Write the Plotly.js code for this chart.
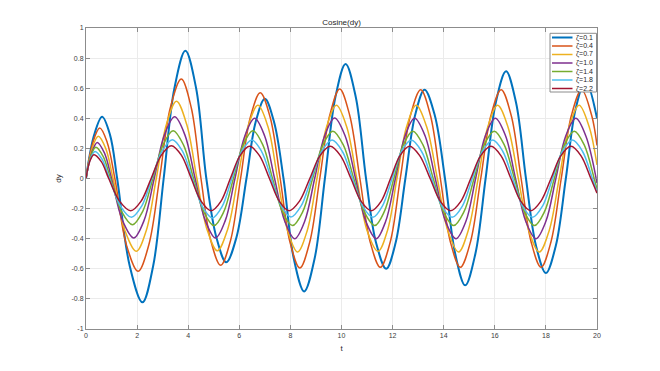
<!DOCTYPE html>
<html>
<head>
<meta charset="utf-8">
<script src="https://cdn.plot.ly/plotly-3.0.1.min.js"></script>
<style>html,body{margin:0;padding:0;background:#fff;}#chart{width:660px;height:371px;}</style>
</head>
<body>
<div id="chart"></div>
<script>
// values (peaks, troughs, zero crossings and in-between points)
const names = ["ζ=0.1", "ζ=0.4", "ζ=0.7", "ζ=1.0", "ζ=1.4", "ζ=1.8", "ζ=2.2"];
const colors = ["#0072BD", "#D95319", "#EDB120", "#7E2F8E", "#77AC30", "#4DBEEE", "#A2142F"];

const tZ01 = [0,0.32,0.63,0.94,1.22,1.71,2.21,2.63,3.04,3.46,3.89,4.31,4.71,5.1,5.49,5.89,6.28,6.64,7.0,7.36,7.73,8.13,8.54,8.95,9.35,9.76,10.16,10.56,10.96,11.35,11.75,12.12,12.5,12.88,13.25,13.65,14.05,14.45,14.84,15.24,15.64,16.04,16.44,16.83,17.22,17.61,18.0,18.39,18.78,19.16,19.55,20];
const vZ01 = [0,0.29,0.41,0.29,0,-0.58,-0.823,-0.58,0,0.6,0.849,0.6,0,-0.39,-0.557,-0.39,0,0.375,0.53,0.375,0,-0.53,-0.75,-0.53,0,0.54,0.761,0.54,0,-0.425,-0.6,-0.425,0,0.42,0.59,0.42,0,-0.5,-0.71,-0.5,0,0.505,0.712,0.505,0,-0.445,-0.628,-0.445,0,0.46,0.65,0.4];

const tZ04 = [0,0.27,0.54,0.83,1.13,1.58,2.04,2.46,2.88,3.3,3.73,4.12,4.5,4.88,5.27,5.66,6.05,6.43,6.82,7.21,7.6,7.98,8.37,8.76,9.15,9.54,9.93,10.32,10.72,11.12,11.52,11.91,12.3,12.7,13.1,13.48,13.87,14.26,14.65,15.05,15.45,15.85,16.25,16.64,17.03,17.42,17.81,18.2,18.6,19.0,19.4,19.79,20];
const vZ04 = [0,0.24,0.335,0.24,0,-0.44,-0.617,-0.44,0,0.47,0.661,0.47,0,-0.41,-0.577,-0.41,0,0.405,0.57,0.405,0,-0.42,-0.595,-0.42,0,0.42,0.595,0.42,0,-0.42,-0.59,-0.42,0,0.42,0.59,0.42,0,-0.42,-0.59,-0.42,0,0.42,0.59,0.42,0,-0.42,-0.59,-0.42,0,0.42,0.59,0.42,0.22];

const tZ07 = [0,0.24,0.48,0.77,1.06,1.52,1.97,2.36,2.75,3.15,3.54,3.94,4.34,4.74,5.14,5.54,5.94,6.34,6.73,7.12,7.5,7.89,8.28,8.66,9.04,9.42,9.8,10.2,10.6,11.0,11.43,11.8,12.17,12.55,12.92,13.33,13.75,14.16,14.58,14.96,15.35,15.73,16.11,16.51,16.92,17.33,17.74,18.13,18.52,18.91,19.3,19.69,20];
const vZ07 = [0,0.2,0.28,0.2,0,-0.345,-0.484,-0.345,0,0.36,0.513,0.36,0,-0.34,-0.48,-0.34,0,0.345,0.486,0.345,0,-0.345,-0.488,-0.345,0,0.345,0.486,0.345,0,-0.345,-0.484,-0.345,0,0.345,0.486,0.345,0,-0.345,-0.488,-0.345,0,0.345,0.486,0.345,0,-0.345,-0.488,-0.345,0,0.345,0.486,0.345,0.09];

const tZ10 = [0,0.22,0.44,0.72,1.0,1.43,1.87,2.27,2.67,3.07,3.47,3.87,4.27,4.67,5.07,5.45,5.83,6.22,6.6,6.99,7.38,7.78,8.17,8.56,8.95,9.34,9.73,10.14,10.55,10.95,11.36,11.73,12.11,12.49,12.86,13.27,13.67,14.07,14.48,14.87,15.25,15.63,16.02,16.42,16.81,17.21,17.61,18.0,18.39,18.78,19.17,19.56,20];
const vZ10 = [0,0.17,0.24,0.17,0,-0.28,-0.395,-0.28,0,0.29,0.41,0.29,0,-0.28,-0.395,-0.28,0,0.284,0.4,0.284,0,-0.284,-0.4,-0.284,0,0.284,0.402,0.284,0,-0.284,-0.4,-0.284,0,0.284,0.4,0.284,0,-0.284,-0.4,-0.284,0,0.284,0.4,0.284,0,-0.284,-0.4,-0.284,0,0.284,0.4,0.284,-0.03];

const tZ14 = [0,0.19,0.38,0.67,0.96,1.39,1.82,2.22,2.62,3.02,3.41,3.81,4.21,4.61,5.01,5.39,5.77,6.15,6.53,6.92,7.3,7.69,8.08,8.48,8.87,9.27,9.66,10.07,10.48,10.89,11.3,11.67,12.05,12.42,12.79,13.19,13.59,13.99,14.39,14.79,15.19,15.58,15.98,16.37,16.77,17.16,17.55,17.94,18.33,18.72,19.11,19.5,19.89,20];
const vZ14 = [0,0.15,0.207,0.147,0,-0.218,-0.307,-0.218,0,0.225,0.318,0.225,0,-0.222,-0.313,-0.222,0,0.223,0.318,0.223,0,-0.222,-0.313,-0.222,0,0.223,0.314,0.223,0,-0.222,-0.313,-0.222,0,0.223,0.314,0.223,0,-0.222,-0.313,-0.222,0,0.223,0.314,0.223,0,-0.222,-0.313,-0.222,0,0.223,0.314,0.223,0,-0.07];

const tZ18 = [0,0.17,0.35,0.63,0.92,1.35,1.78,2.18,2.58,2.98,3.38,3.77,4.16,4.55,4.94,5.33,5.71,6.1,6.49,6.87,7.25,7.64,8.02,8.42,8.82,9.23,9.63,10.03,10.43,10.83,11.23,11.6,11.98,12.35,12.73,13.13,13.53,13.93,14.33,14.73,15.12,15.52,15.92,16.31,16.7,17.09,17.48,17.87,18.26,18.65,19.04,19.43,19.82,20];
const vZ18 = [0,0.13,0.18,0.128,0,-0.183,-0.258,-0.183,0,0.183,0.258,0.183,0,-0.185,-0.262,-0.185,0,0.181,0.255,0.181,0,-0.182,-0.256,-0.182,0,0.181,0.255,0.181,0,-0.183,-0.258,-0.183,0,0.181,0.255,0.181,0,-0.183,-0.258,-0.183,0,0.181,0.255,0.181,0,-0.183,-0.258,-0.183,0,0.181,0.255,0.181,0,-0.09];

const tZ22 = [0,0.15,0.31,0.6,0.89,1.32,1.75,2.15,2.55,2.95,3.34,3.73,4.12,4.51,4.9,5.28,5.65,6.03,6.4,6.79,7.18,7.57,7.95,8.35,8.76,9.16,9.56,9.96,10.37,10.77,11.17,11.55,11.92,12.29,12.66,13.06,13.47,13.87,14.27,14.67,15.06,15.45,15.85,16.24,16.63,17.02,17.41,17.8,18.2,18.59,18.98,19.37,19.76,20];
const vZ22 = [0,0.115,0.158,0.112,0,-0.152,-0.214,-0.152,0,0.155,0.218,0.155,0,-0.152,-0.214,-0.152,0,0.152,0.214,0.152,0,-0.152,-0.214,-0.152,0,0.152,0.214,0.152,0,-0.152,-0.214,-0.152,0,0.152,0.214,0.152,0,-0.152,-0.214,-0.152,0,0.152,0.214,0.152,0,-0.152,-0.214,-0.152,0,0.152,0.214,0.152,0,-0.097];

const xTicks = [0,2,4,6,8,10,12,14,16,18,20];
const yTicks = [-1,-0.8,-0.6,-0.4,-0.2,0,0.2,0.4,0.6,0.8,1];
const yTickText = ["-1","-0.8","-0.6","-0.4","-0.2","0","0.2","0.4","0.6","0.8","1"];

const tSets = [tZ01, tZ04, tZ07, tZ10, tZ14, tZ18, tZ22];
const vSets = [vZ01, vZ04, vZ07, vZ10, vZ14, vZ18, vZ22];
const widths = names.map((n, i) => i === 0 ? 2 : 1.5);

const FONT = 'Liberation Sans, Arial, sans-serif';

const traces = names.map((n, i) => ({
  type: 'scatter', mode: 'lines', name: n,
  x: tSets[i], y: vSets[i],
  line: {color: colors[i], width: widths[i], shape: 'spline', smoothing: 1}
}));

// compact MATLAB-style legend (plotly's built-in legend has a 16px minimum row height)
const plotL = 86, plotR = 597, plotT = 28, plotB = 329;
const px2x = p => (p - plotL) / (plotR - plotL);
const py2y = p => (plotB - p) / (plotB - plotT);
const legShapes = [{
  type: 'rect', xref: 'paper', yref: 'paper',
  x0: px2x(550), x1: px2x(596.5), y0: py2y(92), y1: py2y(33.3),
  fillcolor: '#ffffff', line: {color: '#8c8c8c', width: 1}, layer: 'above'
}];
const legAnn = [];
names.forEach((n, i) => {
  const py = 37.5 + 8.5 * i;
  legShapes.push({
    type: 'line', xref: 'paper', yref: 'paper',
    x0: px2x(552), x1: px2x(572.5), y0: py2y(py), y1: py2y(py),
    line: {color: colors[i], width: widths[i]}, layer: 'above'
  });
  legAnn.push({
    xref: 'paper', yref: 'paper', x: px2x(573.5), y: py2y(py),
    xanchor: 'left', yanchor: 'middle', showarrow: false, text: n,
    font: {family: FONT, size: 7, color: '#262626'}
  });
});

const axisCommon = {
  showline: true, mirror: 'ticks', linecolor: '#8c8c8c', linewidth: 1,
  ticks: 'inside', ticklen: 4, tickcolor: '#8c8c8c', tickwidth: 1,
  showgrid: true, gridcolor: '#ebebeb', gridwidth: 1, zeroline: false,
  tickfont: {family: FONT, size: 7, color: '#404040'}
};

const layout = {
  width: 660, height: 371,
  margin: {l: plotL, r: 660 - plotR, t: plotT, b: 371 - plotB},
  paper_bgcolor: '#ffffff', plot_bgcolor: '#ffffff',
  font: {family: FONT, size: 7, color: '#262626'},
  title: {text: 'Cosine(dy)', x: 0.5, xref: 'paper', xanchor: 'center', y: 1, yref: 'paper', yanchor: 'bottom', pad: {b: 3},
          font: {family: FONT, size: 8, color: '#262626'}},
  xaxis: Object.assign({}, axisCommon, {
    range: [0, 20], tickvals: xTicks, ticktext: xTicks.map(String),
    title: {text: 't', standoff: 6, font: {family: FONT, size: 8, color: '#262626'}}
  }),
  yaxis: Object.assign({}, axisCommon, {
    range: [-1, 1], tickvals: yTicks, ticktext: yTickText,
    title: {text: 'dy', standoff: 8, font: {family: FONT, size: 8, color: '#262626'}}
  }),
  showlegend: false,
  shapes: legShapes,
  annotations: legAnn
};

Plotly.newPlot('chart', traces, layout, {displayModeBar: false, staticPlot: true});
</script>
</body>
</html>
